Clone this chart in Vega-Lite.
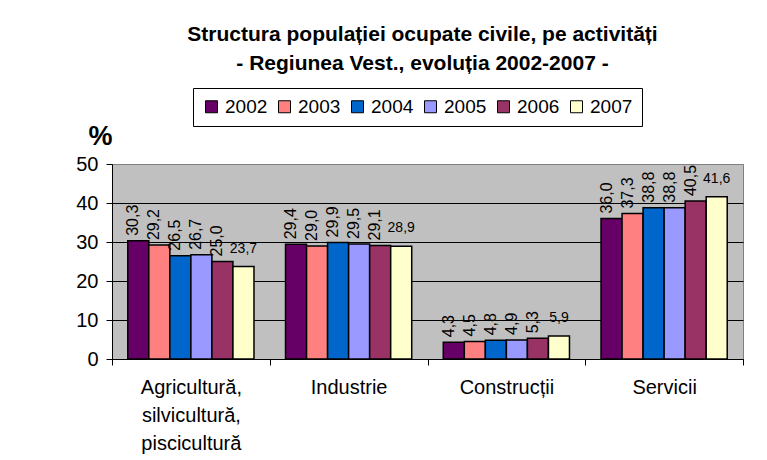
{
  "$schema": "https://vega.github.io/schema/vega-lite/v6.json",
  "width": 631,
  "height": 195,
  "autosize": {"type": "none"},
  "padding": {"left": 112, "top": 164, "right": 24, "bottom": 101},
  "background": "white",
  "title": {
    "text": ["Structura populației ocupate civile, pe activități", "- Regiunea Vest., evoluția 2002-2007 -"],
    "font": "Liberation Sans, Arial, sans-serif",
    "fontSize": 21,
    "fontWeight": "bold",
    "lineHeight": 29,
    "color": "black",
    "anchor": "middle",
    "dx": -5,
    "offset": 14
  },
  "data": {
    "values": [
      {"activitate": "Agricultură, silvicultură, piscicultură", "an": "2002", "valoare": 30.3},
      {"activitate": "Agricultură, silvicultură, piscicultură", "an": "2003", "valoare": 29.2},
      {"activitate": "Agricultură, silvicultură, piscicultură", "an": "2004", "valoare": 26.5},
      {"activitate": "Agricultură, silvicultură, piscicultură", "an": "2005", "valoare": 26.7},
      {"activitate": "Agricultură, silvicultură, piscicultură", "an": "2006", "valoare": 25.0},
      {"activitate": "Agricultură, silvicultură, piscicultură", "an": "2007", "valoare": 23.7},
      {"activitate": "Industrie", "an": "2002", "valoare": 29.4},
      {"activitate": "Industrie", "an": "2003", "valoare": 29.0},
      {"activitate": "Industrie", "an": "2004", "valoare": 29.9},
      {"activitate": "Industrie", "an": "2005", "valoare": 29.5},
      {"activitate": "Industrie", "an": "2006", "valoare": 29.1},
      {"activitate": "Industrie", "an": "2007", "valoare": 28.9},
      {"activitate": "Construcții", "an": "2002", "valoare": 4.3},
      {"activitate": "Construcții", "an": "2003", "valoare": 4.5},
      {"activitate": "Construcții", "an": "2004", "valoare": 4.8},
      {"activitate": "Construcții", "an": "2005", "valoare": 4.9},
      {"activitate": "Construcții", "an": "2006", "valoare": 5.3},
      {"activitate": "Construcții", "an": "2007", "valoare": 5.9},
      {"activitate": "Servicii", "an": "2002", "valoare": 36.0},
      {"activitate": "Servicii", "an": "2003", "valoare": 37.3},
      {"activitate": "Servicii", "an": "2004", "valoare": 38.8},
      {"activitate": "Servicii", "an": "2005", "valoare": 38.8},
      {"activitate": "Servicii", "an": "2006", "valoare": 40.5},
      {"activitate": "Servicii", "an": "2007", "valoare": 41.6}
    ]
  },
  "encoding": {
    "x": {
      "field": "activitate",
      "type": "nominal",
      "sort": ["Agricultură, silvicultură, piscicultură", "Industrie", "Construcții", "Servicii"],
      "scale": {"paddingInner": 0, "paddingOuter": 0},
      "axis": {
        "title": null,
        "domainColor": "black",
        "tickColor": "black",
        "tickSize": 6,
        "tickBand": "extent",
        "labelAngle": 0,
        "labelFont": "Liberation Sans, Arial, sans-serif",
        "labelFontSize": 20,
        "labelColor": "black",
        "labelPadding": 12,
        "labelLineHeight": 28,
        "labelLimit": 0,
        "labelExpr": "split(datum.label, ' ')"
      }
    },
    "xOffset": {
      "field": "an",
      "type": "nominal",
      "scale": {"paddingInner": 0, "paddingOuter": 0.75}
    },
    "y": {
      "field": "valoare",
      "type": "quantitative",
      "scale": {"domain": [0, 50], "nice": false},
      "axis": {
        "values": [0, 10, 20, 30, 40, 50],
        "grid": true,
        "gridColor": {"condition": {"test": "datum.value == 50", "value": "#808080"}, "value": "black"},
        "gridWidth": 1,
        "domainColor": "black",
        "tickColor": "black",
        "tickSize": 6,
        "labelFont": "Liberation Sans, Arial, sans-serif",
        "labelFontSize": 20,
        "labelColor": "black",
        "labelPadding": 8,
        "title": "%",
        "titleAngle": 0,
        "titleFont": "Liberation Sans, Arial, sans-serif",
        "titleFontSize": 27,
        "titleFontWeight": "bold",
        "titleColor": "black",
        "titleAlign": "center",
        "titleBaseline": "middle",
        "titleX": -12,
        "titleY": -28
      }
    }
  },
  "layer": [
    {
      "mark": {"type": "bar", "stroke": "black", "strokeWidth": 1.5},
      "encoding": {
        "color": {
          "field": "an",
          "type": "nominal",
          "scale": {
            "domain": ["2002", "2003", "2004", "2005", "2006", "2007"],
            "range": ["#660066", "#FF8080", "#0066CC", "#9999FF", "#993366", "#FFFFCC"]
          },
          "legend": {
            "title": null,
            "orient": "none",
            "direction": "horizontal",
            "legendX": 81,
            "legendY": -76,
            "symbolType": "square",
            "symbolSize": 144,
            "symbolStrokeColor": "black",
            "symbolStrokeWidth": 1,
            "labelFont": "Liberation Sans, Arial, sans-serif",
            "labelFontSize": 19,
            "labelColor": "black",
            "labelOffset": 4,
            "columnPadding": 7,
            "padding": 9,
            "strokeColor": "black",
            "fillColor": "white"
          }
        }
      }
    },
    {
      "transform": [{"filter": "datum.an != '2007'"}],
      "mark": {
        "type": "text",
        "angle": 270,
        "align": "left",
        "baseline": "alphabetic",
        "dx": 5,
        "font": "Liberation Sans, Arial, sans-serif",
        "fontSize": 16,
        "color": "black"
      },
      "encoding": {
        "text": {"field": "valoare", "type": "quantitative", "format": ".1f"}
      }
    },
    {
      "transform": [{"filter": "datum.an == '2007'"}],
      "mark": {
        "type": "text",
        "align": "center",
        "baseline": "alphabetic",
        "dy": -14,
        "font": "Liberation Sans, Arial, sans-serif",
        "fontSize": 14,
        "color": "black"
      },
      "encoding": {
        "text": {"field": "valoare", "type": "quantitative", "format": ".1f"}
      }
    }
  ],
  "config": {
    "locale": {"number": {"decimal": ",", "thousands": ".", "grouping": [3], "currency": ["", ""]}},
    "view": {"fill": "#C0C0C0", "stroke": "#808080"}
  }
}
